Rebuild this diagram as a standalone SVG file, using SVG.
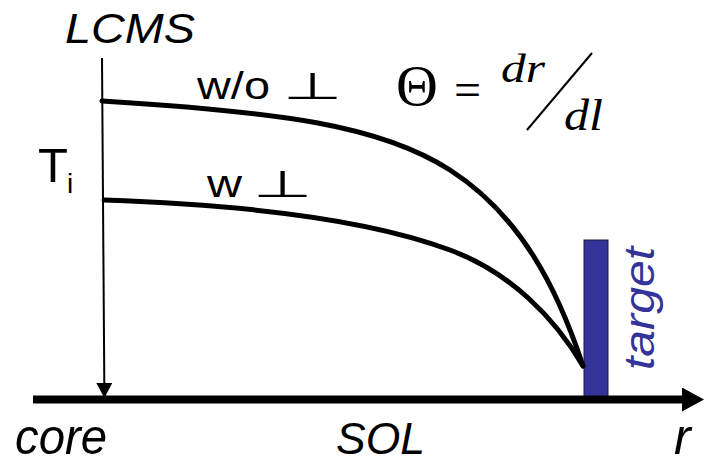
<svg xmlns="http://www.w3.org/2000/svg" width="704" height="460" viewBox="0 0 704 460">
  <style>
    .sans { font-family: "Liberation Sans", Arial, sans-serif; fill: #000; }
    .ital { font-style: italic; }
    .serif { font-family: "Liberation Serif", "Times New Roman", serif; fill: #000; }
    .sym { font-family: "DejaVu Sans", "Liberation Sans", sans-serif; fill: #000; }
    .curve { fill: none; stroke: #000; stroke-width: 5; stroke-linecap: round; }
  </style>
  <defs>
    <marker id="bigArrow" viewBox="0 0 22 24" markerWidth="22" markerHeight="24" refX="1" refY="12" markerUnits="userSpaceOnUse" orient="auto">
      <path d="M0,0 L22,12 L0,24 z" fill="#000"/>
    </marker>
    <marker id="smallArrow" viewBox="0 0 15 16" markerWidth="15" markerHeight="16" refX="0" refY="8" markerUnits="userSpaceOnUse" orient="auto">
      <path d="M0,0 L15,8 L0,16 z" fill="#000"/>
    </marker>
  </defs>

  <rect width="704" height="460" fill="#fff"/>

  <g id="target">
    <rect x="584" y="240" width="24" height="160" fill="#333399" stroke="#1a1a40" stroke-width="1"/>
    <text class="ital" transform="translate(654,370) rotate(-90)" font-family="Liberation Sans, Arial, sans-serif" font-size="42" fill="#333399" textLength="123" lengthAdjust="spacingAndGlyphs">target</text>
  </g>

  <g id="connectors">
    <line x1="33" y1="399.5" x2="683" y2="399.5" stroke="#000" stroke-width="8" marker-end="url(#bigArrow)"/>
    <line x1="102" y1="58" x2="104.3" y2="383" stroke="#000" stroke-width="2" marker-end="url(#smallArrow)"/>
    <path id="curve-wo" class="curve" d="M102,101 C280,112 380,125 450,170 C520,215 557,287 583,366"/>
    <path id="curve-w" class="curve" d="M104,200 C250,205 370,220 450,250 C510,272 555,318 583,366"/>
  </g>

  <g id="labels">
    <text class="sans ital" x="65" y="43" font-size="42" textLength="130" lengthAdjust="spacingAndGlyphs">LCMS</text>
    <text class="sans" x="38" y="182" font-size="49">T</text>
    <text class="sans" x="67" y="193" font-size="28">i</text>
    <text class="sans" x="197" y="99" font-size="38" textLength="73" lengthAdjust="spacingAndGlyphs">w/o</text>
    <text class="sym" transform="translate(283,99) scale(1.14,0.62)" font-size="60">⊥</text>
    <text class="sans" x="207" y="197" font-size="39" textLength="35" lengthAdjust="spacingAndGlyphs">w</text>
    <text class="sym" transform="translate(253,197) scale(1.14,0.62)" font-size="60">⊥</text>
    <text class="sans ital" x="15" y="454" font-size="50" textLength="92" lengthAdjust="spacingAndGlyphs">core</text>
    <text class="sans ital" x="336" y="454" font-size="45" textLength="89" lengthAdjust="spacingAndGlyphs">SOL</text>
    <text class="sans ital" x="674" y="454" font-size="50">r</text>
  </g>

  <g id="formula">
    <text class="serif" x="396" y="105" font-size="58">Θ</text>
    <text class="serif" x="454" y="106" font-size="48">=</text>
    <text class="serif ital" x="501" y="82" font-size="40" textLength="44" lengthAdjust="spacingAndGlyphs">dr</text>
    <line x1="527" y1="130" x2="592" y2="53" stroke="#000" stroke-width="2"/>
    <text class="serif ital" x="564" y="130" font-size="44" textLength="39" lengthAdjust="spacingAndGlyphs">dl</text>
  </g>
</svg>
